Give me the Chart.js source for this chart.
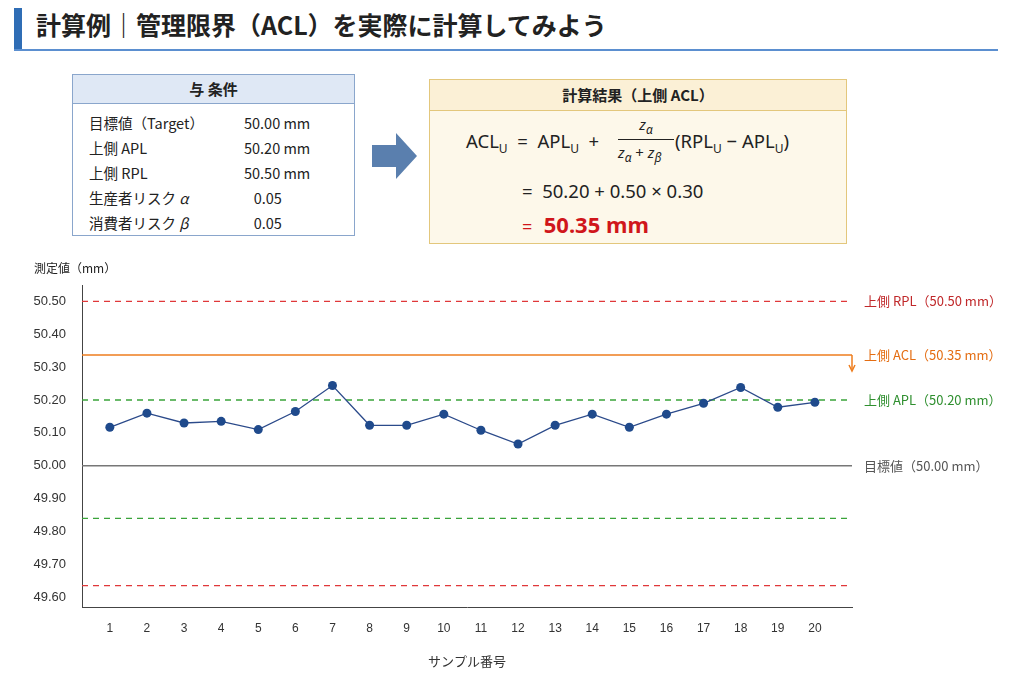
<!DOCTYPE html>
<html><head><meta charset="utf-8">
<script src="https://cdn.jsdelivr.net/npm/chart.js@4"></script>
<style>
body{margin:0;width:1024px;height:683px;background:#fff;font-family:"Noto Sans CJK JP","Noto Sans",sans-serif;position:relative;overflow:hidden;color:#222}
#bar{position:absolute;left:14px;top:8px;width:8px;height:42px;background:#2f6db5}
#title{position:absolute;left:36px;top:6px;font-size:25px;font-weight:bold;color:#222}
#hr{position:absolute;left:14px;top:49px;width:984px;height:2px;background:#5b8fd0}
#cond{position:absolute;left:72px;top:74px;width:281px;height:160px;border:1px solid #8aa6cc}
#cond .h{background:#dfe8f5;border-bottom:1px solid #8aa6cc;text-align:center;font-weight:bold;font-size:15px;height:28px;line-height:28px}
#cond table{margin:6px 0 0 16px;font-size:14.5px;border-collapse:collapse}
#cond td{height:25px;padding:0}
#cond td.v{padding-left:40px;width:110px}
#arrow{position:absolute;left:372px;top:133px}
#res{position:absolute;left:429px;top:79px;width:416px;height:163px;border:1px solid #e3c77c;background:#fdf8ea}
#res .h{text-align:center;font-weight:bold;font-size:15px;height:30px;line-height:30px;border-bottom:1px solid #e3c77c;background:#fbf0d6}
.f{position:absolute;font-size:18.5px;font-family:"Noto Sans","Noto Sans CJK JP",sans-serif;white-space:nowrap}
sub{font-size:12px}
#cv{position:absolute;left:0;top:255px}
</style></head><body>
<div id="bar"></div><div id="title">計算例｜管理限界（ACL）を実際に計算してみよう</div><div id="hr"></div>
<div id="cond"><div class="h">与 条件</div>
<table><tr><td>目標値（Target）</td><td class="v">50.00 mm</td></tr>
<tr><td>上側 APL</td><td class="v">50.20 mm</td></tr>
<tr><td>上側 RPL</td><td class="v">50.50 mm</td></tr>
<tr><td>生産者リスク <i>α</i></td><td class="v">&nbsp;&nbsp;&nbsp;0.05</td></tr>
<tr><td>消費者リスク <i>β</i></td><td class="v">&nbsp;&nbsp;&nbsp;0.05</td></tr></table></div>
<svg id="arrow" width="46" height="46"><polygon points="0,12 24,12 24,0 45,23 24,46 24,34 0,34" fill="#5a7fae"/></svg>
<div id="res"><div class="h">計算結果（上側 ACL）</div>
<div class="f" style="left:36px;top:48px">ACL<sub>U</sub>&nbsp; = &nbsp;APL<sub>U</sub> &nbsp;+</div>
<div class="f" style="left:188px;top:34px;font-size:15px;width:56px;text-align:center"><i>z<sub>α</sub></i></div>
<div style="position:absolute;left:188px;top:59px;width:56px;height:1px;background:#222"></div>
<div class="f" style="left:188px;top:62px;font-size:15px"><i>z<sub>α</sub></i> + <i>z<sub>β</sub></i></div>
<div class="f" style="left:245px;top:48px">(RPL<sub>U</sub> − APL<sub>U</sub>)</div>
<div class="f" style="left:92px;top:98px">= &nbsp;50.20 + 0.50 × 0.30</div>
<div class="f" style="left:92px;top:129px;color:#d0161b;font-size:22px;font-weight:bold"><span style="font-weight:normal;font-size:18px">=</span>&nbsp; 50.35 mm</div>
</div>
<canvas id="cv" width="1024" height="428"></canvas>
<script>
const samples=[1,2,3,4,5,6,7,8,9,10,11,12,13,14,15,16,17,18,19,20];
const values=[50.117,50.16,50.13,50.135,50.11,50.165,50.244,50.123,50.123,50.157,50.108,50.066,50.123,50.157,50.117,50.157,50.19,50.238,50.178,50.193];
const yTicks=[49.6,49.7,49.8,49.9,50.0,50.1,50.2,50.3,50.4,50.5];
const refLines=[
 {v:50.5,color:'#e0383a',dash:[6,5],label:'上側 RPL（50.50 mm）'},
 {v:50.337,color:'#ee7d1e',dash:[],label:'上側 ACL（50.35 mm）'},
 {v:50.2,color:'#3aa43a',dash:[6,5],label:'上側 APL（50.20 mm）'},
 {v:50.0,color:'#777',dash:[],label:'目標値（50.00 mm）'},
 {v:49.84,color:'#3aa43a',dash:[6,5],label:''},
 {v:49.635,color:'#e0383a',dash:[6,5],label:''}];
const labelColors={'上側 RPL（50.50 mm）':'#c0282a','上側 ACL（50.35 mm）':'#e46d12','上側 APL（50.20 mm）':'#2f8f2f','目標値（50.00 mm）':'#555'};
const refPlugin={id:'refs',beforeDatasetsDraw(c){const {ctx,chartArea:a,scales:{y}}=c;ctx.save();
 refLines.forEach(r=>{const py=y.getPixelForValue(r.v);ctx.strokeStyle=r.color;ctx.lineWidth=r.dash.length?1.3:1.5;ctx.setLineDash(r.dash);ctx.beginPath();ctx.moveTo(a.left,py);ctx.lineTo(a.right,py);ctx.stroke();
  if(r.label){ctx.setLineDash([]);ctx.fillStyle=labelColors[r.label];ctx.font='13px "Noto Sans CJK JP"';ctx.textBaseline='middle';ctx.fillText(r.label,a.right+12,py);}
  if(r.dash.length===0&&r.v>50.3){ctx.setLineDash([]);ctx.beginPath();ctx.moveTo(a.right,py);ctx.lineTo(a.right,py+14);ctx.stroke();ctx.beginPath();ctx.moveTo(a.right-3,py+10);ctx.lineTo(a.right,py+16);ctx.lineTo(a.right+3,py+10);ctx.stroke();}
 });ctx.restore();},
 afterDraw(c){const {ctx}=c;ctx.save();ctx.fillStyle='#222';ctx.font='12px "Noto Sans CJK JP"';ctx.fillText('測定値（mm）',34,18);ctx.restore();}};
new Chart(document.getElementById('cv'),{type:'line',
 data:{datasets:[{data:samples.map((s,i)=>({x:s,y:values[i]})),borderColor:'#2b4a8a',backgroundColor:'#1f4a8c',borderWidth:1.3,pointRadius:4.5,pointBorderWidth:0,tension:0}]},
 options:{responsive:false,animation:false,layout:{padding:{left:0,right:172,top:30,bottom:10}},
  plugins:{legend:{display:false},tooltip:{enabled:false}},
  scales:{x:{type:'linear',min:0.25,max:21,afterBuildTicks(s){s.ticks=samples.map(v=>({value:v}));},
    grid:{display:false,drawTicks:true},border:{color:'#444'},ticks:{color:'#333',font:{size:12},padding:6},
    title:{display:true,text:'サンプル番号',color:'#333',font:{size:13,family:'"Noto Sans CJK JP"'},padding:{top:12}}},
   y:{min:49.57,max:50.55,afterBuildTicks(s){s.ticks=yTicks.map(v=>({value:v}));},afterFit(s){s.width=82;},
    grid:{display:false},border:{color:'#444'},ticks:{color:'#333',font:{size:13},padding:8,callback:v=>v.toFixed(2)}}}},
 plugins:[refPlugin]});
</script></body></html>
